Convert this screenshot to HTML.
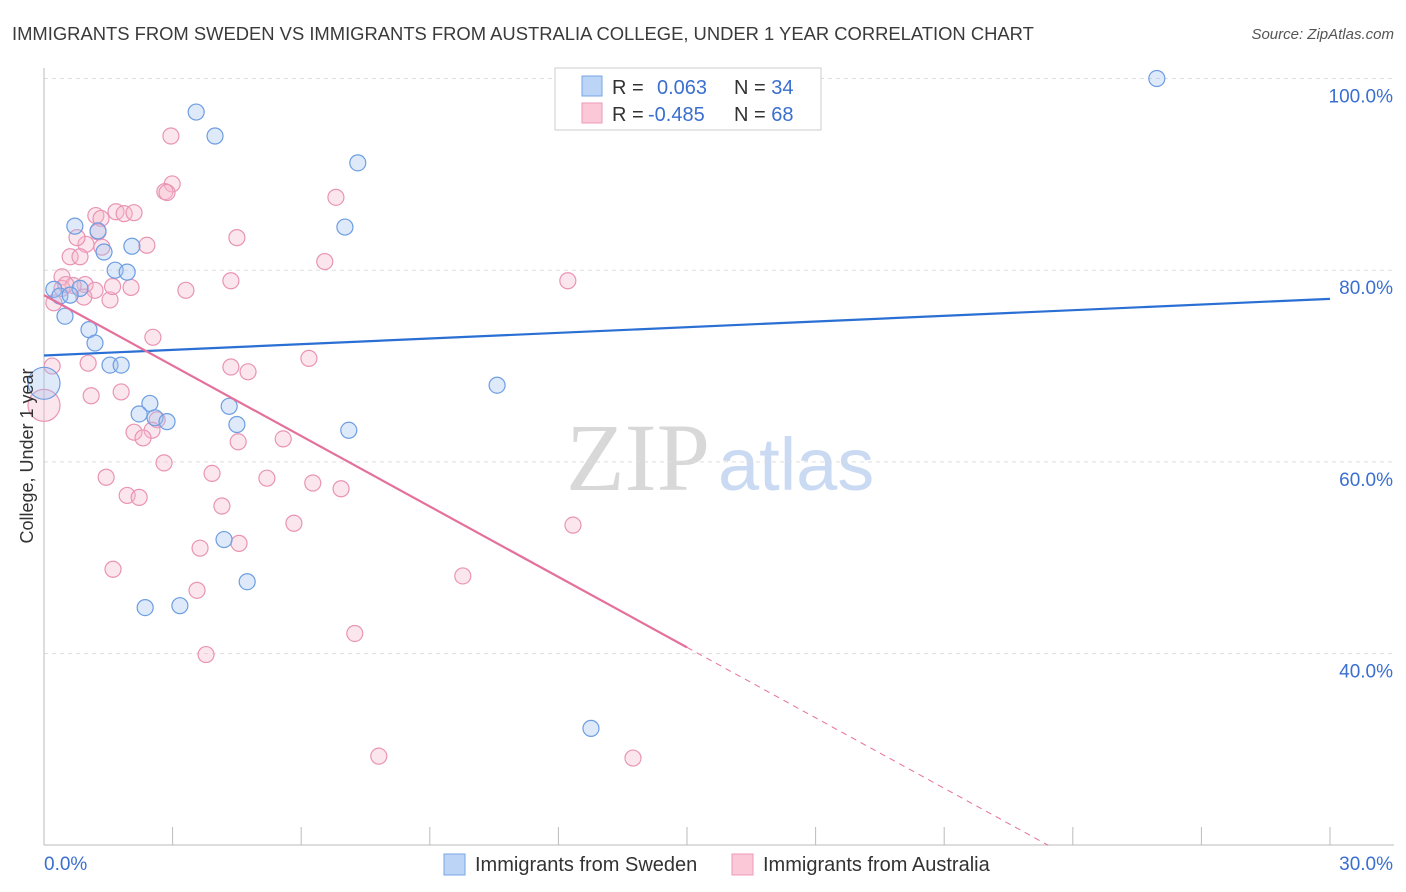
<!DOCTYPE html>
<html><head><meta charset="utf-8"><style>
body{margin:0;background:#fff;font-family:"Liberation Sans",sans-serif;}
svg{display:block}
</style></head><body>
<svg id="chart" width="1406" height="892">
<text x="12" y="40" font-size="18.4" fill="#3a3a3a">IMMIGRANTS FROM SWEDEN VS IMMIGRANTS FROM AUSTRALIA COLLEGE, UNDER 1 YEAR CORRELATION CHART</text>
<text x="1394" y="39" font-size="15" fill="#555" font-style="italic" text-anchor="end">Source: ZipAtlas.com</text>
<text x="710" y="490" font-size="96" fill="#d8d8d8" text-anchor="end" font-family="Liberation Serif,serif">ZIP</text>
<text x="718" y="490" font-size="74" fill="#c9daf2">atlas</text>
<g id="grid"></g>
<g id="axes"></g>
<g id="pts"></g>
<g id="trend"></g>
<g>
<rect x="555" y="68" width="266" height="62" fill="#fff" stroke="#ccc"/>
<rect x="582" y="76" width="20" height="20" fill="#bcd4f5" stroke="#7aa6e6"/>
<rect x="582" y="103" width="20" height="20" fill="#fbc8d8" stroke="#ec9ab8"/>
<text x="612" y="94" font-size="20" fill="#333">R = <tspan x="657" fill="#3a6fd0">0.063</tspan><tspan x="734" fill="#333">N = </tspan><tspan fill="#3a6fd0">34</tspan></text>
<text x="612" y="121" font-size="20" fill="#333">R = <tspan x="648" fill="#3a6fd0">-0.485</tspan><tspan x="734" fill="#333">N = </tspan><tspan fill="#3a6fd0">68</tspan></text>
</g>
<g>
<rect x="444" y="854" width="21" height="21" fill="#bcd4f5" stroke="#7aa6e6"/>
<text x="475" y="871" font-size="20" fill="#333">Immigrants from Sweden</text>
<rect x="732" y="854" width="21" height="21" fill="#fbc8d8" stroke="#ec9ab8"/>
<text x="763" y="871" font-size="20" fill="#333">Immigrants from Australia</text>
</g>
<text x="33" y="456" font-size="18" fill="#333" text-anchor="middle" transform="rotate(-90 33 456)">College, Under 1 year</text>
</svg>
<script>
const yTicks=[40,60,80,100];
const yTickLabels=["40.0%","60.0%","80.0%","100.0%"];
const xLabels=["0.0%","30.0%"];
const swedenX=[25.96,3.55,3.99,7.32,7.02,0.72,1.26,2.05,1.40,1.66,1.94,0.23,0.84,0.37,0.61,0.49,1.05,1.19,1.54,1.80,0,10.57,2.47,4.32,2.22,2.59,2.87,4.50,7.11,4.20,4.74,3.17,2.36,12.76];
const swedenY=[100,96.5,94.0,91.2,84.5,84.6,84.1,82.5,81.9,80.0,79.8,78.0,78.1,77.3,77.4,75.2,73.8,72.4,70.1,70.1,68.2,68.0,66.1,65.8,65.0,64.6,64.2,63.9,63.3,51.9,47.5,45.0,44.8,32.2];
const swedenBig=[20];
const ausX=[2.96,2.99,2.82,2.87,6.81,1.21,1.68,1.87,1.33,1.26,4.50,0.98,2.40,1.35,0.61,0.84,6.55,0.42,4.36,12.22,0.96,0.68,0.42,1.19,3.31,2.03,1.54,0.93,0.23,2.54,6.18,1.03,4.36,4.76,0.19,1.80,1.10,0,2.64,4.53,2.52,2.10,2.31,5.58,2.80,1.45,3.92,5.20,6.27,6.93,1.94,2.22,4.15,5.83,12.34,4.55,3.64,1.61,9.77,3.57,7.25,3.78,7.81,13.74,0.51,0.77,1.60,2.10];
const ausY=[94.0,89.0,88.2,88.1,87.6,85.7,86.1,85.9,85.4,84.0,83.4,82.7,82.6,82.4,81.4,81.4,80.9,79.3,78.9,78.9,78.5,78.4,78.1,77.9,77.9,78.2,76.9,77.2,76.6,73.0,70.8,70.3,69.9,69.4,70.0,67.3,66.9,65.9,64.4,62.1,63.3,63.1,62.5,62.4,59.9,58.4,58.8,58.3,57.8,57.2,56.5,56.3,55.4,53.6,53.4,51.5,51.0,48.8,48.1,46.6,42.1,39.9,29.3,29.1,78.5,83.4,78.3,86.0];
const ausBig=[37];
const swedenTrend=[71.1,0.197];
const ausTrend=[77.4,-2.45];

const NS="http://www.w3.org/2000/svg";
const X0=44,X1=1330,Yb=845;
const sx=v=>X0+(X1-X0)*v/30;
const sy=v=>1037-9.585*v;
function mk(parent,tag,attrs){const e=document.createElementNS(NS,tag);for(const k in attrs)e.setAttribute(k,attrs[k]);document.getElementById(parent).appendChild(e);return e;}
yTicks.forEach((t,i)=>{
 const l=mk('grid','line',{x1:X0,x2:1394,y1:sy(t),y2:sy(t),stroke:'#ddd','stroke-dasharray':'4,4'});
 
 
 const tx=mk('axes','text',{x:1393,y:sy(t)+24,'font-size':19,fill:'#3a6fd0','text-anchor':'end'});
 tx.textContent=yTickLabels[i];
 
 
});
const ax=mk('axes','line',{x1:X0,x2:X0,y1:68,y2:Yb,stroke:'#bbb'});


const bx=mk('axes','line',{x1:X0,x2:1394,y1:Yb,y2:Yb,stroke:'#bbb'});


for(let i=1;i<=10;i++){const t=mk('axes','line',{x1:sx(i*3),x2:sx(i*3),y1:Yb-18,y2:Yb,stroke:'#bbb'});
 
 }
const xl0=mk('axes','text',{x:44,y:870,'font-size':19,fill:'#3a6fd0'});xl0.textContent=xLabels[0];


const xl1=mk('axes','text',{x:1393,y:870,'font-size':19,fill:'#3a6fd0','text-anchor':'end'});xl1.textContent=xLabels[1];


function pts(xs,ys,big,fill,stroke,name){xs.forEach((x,i)=>{
 const c=mk('pts','circle',{cx:sx(x),cy:sy(ys[i]),r:big.includes(i)?16:8,fill:fill,stroke:stroke,'stroke-width':1.2});
 
 
});}
pts(ausX,ausY,ausBig,'rgba(246,182,204,0.35)','#e994b4','point-australia');
pts(swedenX,swedenY,swedenBig,'rgba(160,195,240,0.35)','#6d9de2','point-sweden');
const bl=mk('trend','line',{x1:sx(0),y1:sy(swedenTrend[0]),x2:sx(30),y2:sy(swedenTrend[0]+30*swedenTrend[1]),stroke:'#2a6fd4','stroke-width':2.2});


const xe=15, yEnd=20.0, xd=(yEnd-ausTrend[0])/ausTrend[1];
const pl=mk('trend','line',{x1:sx(0),y1:sy(ausTrend[0]),x2:sx(xe),y2:sy(ausTrend[0]+xe*ausTrend[1]),stroke:'#e4709c','stroke-width':2.2});


const pd=mk('trend','line',{x1:sx(xe),y1:sy(ausTrend[0]+xe*ausTrend[1]),x2:sx(xd),y2:sy(yEnd),stroke:'#e4709c','stroke-width':1,'stroke-dasharray':'6,5'});


</script>
</body></html>
